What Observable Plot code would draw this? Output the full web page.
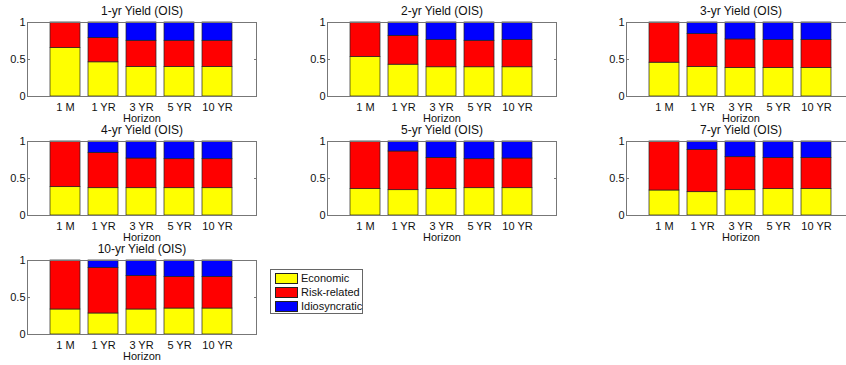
<!DOCTYPE html>
<html><head><meta charset="utf-8">
<script src="https://cdn.jsdelivr.net/npm/d3@7"></script>
<script src="https://cdn.jsdelivr.net/npm/@observablehq/plot@0.6"></script>
<style>
body{margin:0;background:#fff;}
#chart{position:relative;width:846px;height:365px;overflow:hidden;font-family:"Liberation Sans",Arial,sans-serif;color:#111;}
.panel{position:absolute;}
.legend{position:absolute;left:270px;top:269px;width:91px;height:43px;border:1px solid #666;background:#fff;font-size:11px;}
.legend .row{position:absolute;left:4px;height:10px;display:flex;align-items:center;}
.legend .sw{width:21px;height:9px;border:1px solid #222;margin-right:3px;}
</style></head><body><div id="chart"></div>
<script>
const horizons = ["1 M", "1 YR", "3 YR", "5 YR", "10 YR"];
const panelTitles = ["1-yr Yield (OIS)", "2-yr Yield (OIS)", "3-yr Yield (OIS)", "4-yr Yield (OIS)", "5-yr Yield (OIS)", "7-yr Yield (OIS)", "10-yr Yield (OIS)"];
const seriesNames = ["Economic", "Risk-related", "Idiosyncratic"];
const seriesColors = ["#ffff00", "#ff0000", "#0000ff"];
const yTicks = [0, 0.5, 1];
const yTickLabels = ["0", "0.5", "1"];
const xLabel = "Horizon";

// shares per panel (rows: 1-yr, 2-yr, 3-yr, 4-yr, 5-yr, 7-yr, 10-yr), columns: horizons
const economic = [
  [0.655, 0.462, 0.400, 0.400, 0.400],
  [0.534, 0.430, 0.395, 0.395, 0.395],
  [0.457, 0.400, 0.386, 0.386, 0.386],
  [0.383, 0.369, 0.369, 0.369, 0.369],
  [0.356, 0.342, 0.356, 0.369, 0.369],
  [0.338, 0.315, 0.342, 0.356, 0.356],
  [0.338, 0.284, 0.338, 0.351, 0.351]
];
const riskRelated = [
  [0.345, 0.327, 0.353, 0.353, 0.353],
  [0.466, 0.390, 0.367, 0.358, 0.367],
  [0.543, 0.443, 0.385, 0.376, 0.376],
  [0.617, 0.478, 0.401, 0.392, 0.392],
  [0.644, 0.523, 0.423, 0.392, 0.401],
  [0.662, 0.572, 0.446, 0.419, 0.419],
  [0.662, 0.614, 0.453, 0.427, 0.427]
];
const idiosyncratic = [
  [0.000, 0.211, 0.247, 0.247, 0.247],
  [0.000, 0.180, 0.238, 0.247, 0.238],
  [0.000, 0.157, 0.229, 0.238, 0.238],
  [0.000, 0.153, 0.230, 0.239, 0.239],
  [0.000, 0.135, 0.221, 0.239, 0.230],
  [0.000, 0.113, 0.212, 0.225, 0.225],
  [0.000, 0.102, 0.209, 0.222, 0.222]
];

const chart = document.getElementById("chart");
const axLefts = [27, 327, 626];
const axTops = [22, 141, 260];
const axW = 229, axH = 74;
const mL = 30, mR = 6, mT = 22, mB = 28;
const font = '"Liberation Sans", Arial, sans-serif';

panelTitles.forEach((title, p) => {
  const seriesData = [economic[p], riskRelated[p], idiosyncratic[p]];
  const rows = [];
  seriesNames.forEach((s, si) => horizons.forEach((h, hi) => rows.push({horizon: h, series: s, share: seriesData[si][hi]})));
  const fig = Plot.plot({
    width: mL + axW + mR,
    height: mT + axH + mB,
    marginLeft: mL, marginRight: mR, marginTop: mT, marginBottom: mB,
    style: {fontFamily: font, fontSize: "11px", color: "#111", background: "transparent", overflow: "visible"},
    x: {type: "band", domain: horizons, paddingInner: 0.2, paddingOuter: 0.6, label: null},
    y: {domain: [0, 1], label: null},
    color: {domain: seriesNames, range: seriesColors},
    marks: [
      Plot.barY(rows, {x: "horizon", y: "share", fill: "series", stroke: "#222", strokeWidth: 0.7, order: null}),
      Plot.frame({stroke: "#777", strokeWidth: 1}),
      Plot.axisY({ticks: yTicks, tickFormat: (d) => yTickLabels[yTicks.indexOf(d)], tickSize: -3, tickPadding: 5, stroke: "#777", color: "#111", label: null}),
      Plot.axisY({anchor: "right", ticks: yTicks, tickFormat: () => "", tickSize: -3, stroke: "#777", label: null}),
      Plot.axisX({tickSize: 0, tickPadding: 7, label: null}),
      Plot.text([title], {frameAnchor: "top", lineAnchor: "middle", dy: -11, text: d => d, fontSize: 12, fill: "#111"}),
      Plot.text([xLabel], {frameAnchor: "bottom", lineAnchor: "middle", dy: 21.5, text: d => d, fontSize: 11, fill: "#111"})
    ]
  });
  fig.classList.add("panel");
  fig.style.left = (axLefts[p % 3] - mL) + "px";
  fig.style.top = (axTops[Math.floor(p / 3)] - mT) + "px";
  chart.appendChild(fig);
});

const legend = document.createElement("div");
legend.className = "legend";
seriesNames.forEach((s, i) => {
  const row = document.createElement("div");
  row.className = "row";
  row.style.top = (3 + i * 14) + "px";
  const sw = document.createElement("div");
  sw.className = "sw";
  sw.style.background = seriesColors[i];
  const t = document.createElement("span");
  t.textContent = s;
  row.appendChild(sw); row.appendChild(t);
  legend.appendChild(row);
});
chart.appendChild(legend);
</script>
</body></html>
